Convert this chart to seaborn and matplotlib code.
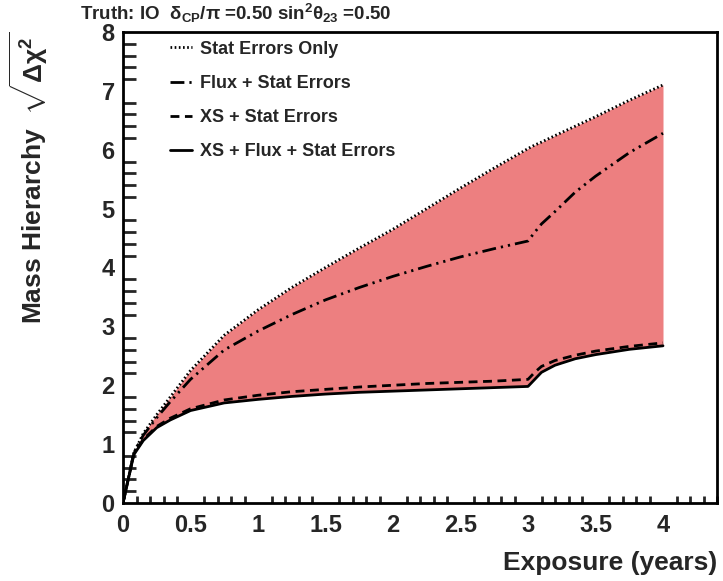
import numpy as np
import pandas as pd
import matplotlib
matplotlib.use("Agg")
import matplotlib.pyplot as plt
from matplotlib.ticker import MultipleLocator
import seaborn as sns

# Exposure in years and the mass-hierarchy sensitivity sqrt(delta chi^2) for each error treatment
exposure = [0, 0.08, 0.15, 0.25, 0.35, 0.5, 0.75, 1.0, 1.25, 1.5, 1.75, 2.0,
            2.25, 2.5, 2.75, 3.0, 3.05, 3.1, 3.2, 3.35, 3.5, 3.75, 4.0]
stat_only = [0, 0.85, 1.18, 1.5, 1.8, 2.25, 2.85, 3.28, 3.66, 4.0, 4.33, 4.65,
             5.0, 5.35, 5.69, 6.02, 6.08, 6.13, 6.24, 6.4, 6.56, 6.84, 7.1]
flux_stat = [0, 0.85, 1.15, 1.45, 1.72, 2.1, 2.6, 2.92, 3.2, 3.45, 3.66, 3.85,
             4.02, 4.18, 4.32, 4.45, 4.6, 4.74, 4.95, 5.28, 5.55, 5.95, 6.28]
xs_stat = [0, 0.83, 1.08, 1.3, 1.44, 1.6, 1.75, 1.83, 1.89, 1.93, 1.97, 2.0,
           2.03, 2.05, 2.07, 2.1, 2.22, 2.32, 2.42, 2.51, 2.58, 2.66, 2.72]
xs_flux_stat = [0, 0.82, 1.06, 1.28, 1.41, 1.57, 1.7, 1.76, 1.81, 1.85, 1.88, 1.9,
                1.92, 1.94, 1.96, 1.98, 2.1, 2.22, 2.34, 2.45, 2.52, 2.61, 2.67]

labels = ["Stat Errors Only", "Flux + Stat Errors", "XS + Stat Errors",
          "XS + Flux + Stat Errors"]

df = pd.DataFrame({"exposure": exposure, "stat": stat_only, "flux": flux_stat,
                   "xs": xs_stat, "all": xs_flux_stat})

sns.set_style("white")
plt.rcParams["font.family"] = ["Liberation Sans", "DejaVu Sans"]
plt.rcParams["font.weight"] = "bold"
plt.rcParams["mathtext.fontset"] = "custom"
plt.rcParams["mathtext.rm"] = "Liberation Sans:bold"
plt.rcParams["mathtext.it"] = "Liberation Sans:bold"
plt.rcParams["mathtext.bf"] = "Liberation Sans:bold"
plt.rcParams["mathtext.default"] = "rm"

W, H = 723, 581
fig = plt.figure(figsize=(W / 100, H / 100), dpi=100)
ax = fig.add_axes([123 / W, 1 - 503 / H, (717 - 123) / W, (503 - 32) / H])

band = "#ED7F80"
ax.fill_between(df["exposure"], df["all"], df["stat"], color=band, lw=0, zorder=1)

styles = [
    ("stat", (0, (0.6, 0.9)), labels[0]),
    ("flux", (0, (5, 1.8, 0.8, 1.8, 0.8, 1.8)), labels[1]),
    ("xs", (0, (3.2, 2.0)), labels[2]),
    ("all", "-", labels[3]),
]
for col, ls, lab in styles:
    sns.lineplot(data=df, x="exposure", y=col, ax=ax, color="black", lw=2.0,
                 linestyle=ls, label=lab, zorder=3)

ax.set_xlim(0, 4.4)
ax.set_ylim(0, 8)
ax.xaxis.set_major_locator(MultipleLocator(0.5))
ax.xaxis.set_minor_locator(MultipleLocator(0.1))
ax.yaxis.set_major_locator(MultipleLocator(1))
ax.yaxis.set_minor_locator(MultipleLocator(0.2))
ax.set_xticks(np.arange(0, 4.01, 0.5))
ax.set_xticklabels(["0", "0.5", "1", "1.5", "2", "2.5", "3", "3.5", "4"])
ax.tick_params(axis="both", which="major", direction="in", labelsize=17,
               width=2, top=False, right=False)
ax.tick_params(axis="x", which="major", length=10, pad=8)
ax.tick_params(axis="y", which="major", length=17, pad=6)
ax.tick_params(axis="x", which="minor", direction="in", length=5, width=2,
               top=False, bottom=True)
ax.tick_params(axis="y", which="minor", direction="in", length=9, width=2,
               left=True, right=False)
for lab in ax.get_xticklabels() + ax.get_yticklabels():
    lab.set_fontweight("bold")
for sp in ax.spines.values():
    sp.set_linewidth(2)
    sp.set_color("black")

ax.set_xlabel("Exposure (years)", fontsize=19, fontweight="bold", loc="right",
              labelpad=10)
ax.set_ylabel(r"Mass Hierarchy  $\sqrt{\Delta\chi^2}$", fontsize=19,
              fontweight="bold", loc="top")
ax.yaxis.set_label_coords(-(123 - 50) / (717 - 123), 1.0)

leg = ax.legend(loc="upper left", bbox_to_anchor=(0.055, 1.012), frameon=False,
                fontsize=13, handlelength=1.2, handletextpad=0.45,
                labelspacing=0.95, borderaxespad=0.4)
for t in leg.get_texts():
    t.set_fontweight("bold")

fig.text(80 / W, 1 - 13 / H,
         r"Truth: IO  δ$_{\mathrm{CP}}$/π =0.50 sin$^{\mathrm{2}}$θ$_{\mathrm{23}}$ =0.50",
         fontsize=13.5, fontweight="bold", ha="left", va="center")

fig.savefig("out.png", dpi=100)
